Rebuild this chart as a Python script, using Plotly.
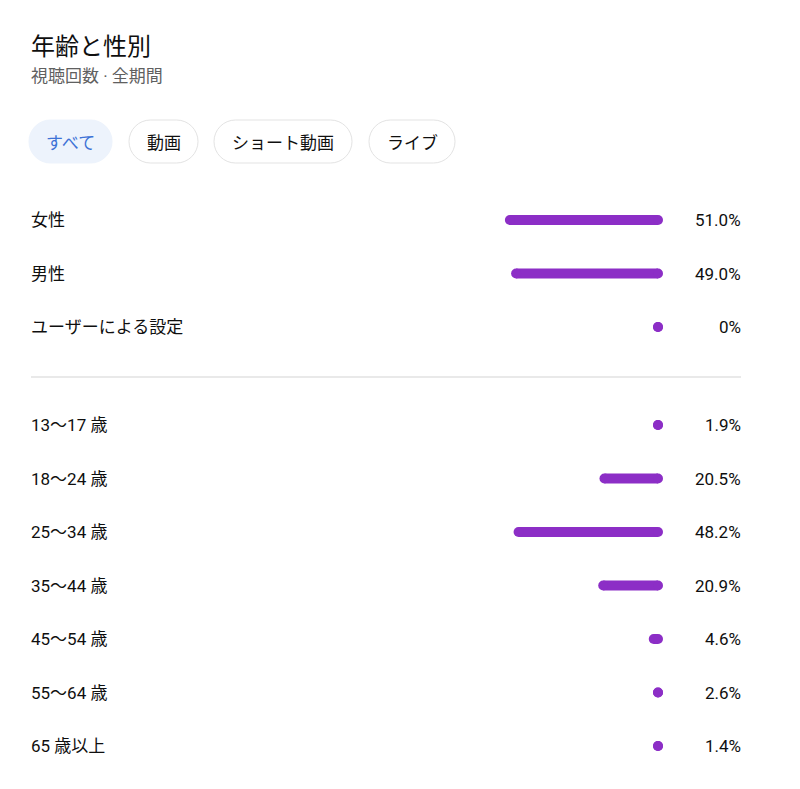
import plotly.graph_objects as go

# ---------------- data ----------------
gender_labels = ["女性", "男性", "ユーザーによる設定"]
gender_values = [51.0, 49.0, 0.0]

age_labels = ["13〜17 歳", "18〜24 歳", "25〜34 歳", "35〜44 歳", "45〜54 歳", "55〜64 歳", "65 歳以上"]
age_values = [1.9, 20.5, 48.2, 20.9, 4.6, 2.6, 1.4]

chip_labels = ["すべて", "動画", "ショート動画", "ライブ"]

title_text = "年齢と性別"
subtitle_text = "視聴回数 · 全期間"

# ---------------- style ----------------
W, H = 800, 789
PURPLE = "#8c2ec6"
TEXT = "#0f0f0f"
GREY = "#606060"
FONT = "Roboto, 'Noto Sans CJK JP', sans-serif"
FONT_CJK = "'Noto Sans CJK JP', Roboto, sans-serif"

BAR_END_PX = 663       # pixel where 0% sits (bars grow leftwards)
PX_PER_PCT = 3.1
ROW_PX = 53.5
BAR_THICK = 10
LEFT_PX = 31
RIGHT_PX = 741
ANN_PAD = 2            # annotation inner padding (borderpad + borderwidth)

x_range = [BAR_END_PX / PX_PER_PCT, 0]
cap_x = (BAR_THICK / 2) / PX_PER_PCT   # centre of the rounded caps, in % units


def pfmt(v):
    return "0%" if v == 0 else f"{v:.1f}%"


def ydom(top_center, n):
    top = top_center - ROW_PX / 2
    bot = top + n * ROW_PX
    return [(H - bot) / H, (H - top) / H]


fig = go.Figure()

for labels, values, ya in [(gender_labels, gender_values, "y"), (age_labels, age_values, "y2")]:
    # each bar = thick line between two round caps; total length (caps included) = value
    xs, ys = [], []
    for lab, v in zip(labels, values):
        xs += [max(v - cap_x, cap_x), cap_x, None]
        ys += [lab, lab, None]
    fig.add_trace(go.Scatter(
        x=xs, y=ys, mode="lines+markers", xaxis="x", yaxis=ya,
        line=dict(color=PURPLE, width=BAR_THICK),
        marker=dict(color=PURPLE, size=BAR_THICK, line=dict(width=0)),
        connectgaps=False, hoverinfo="skip", showlegend=False,
    ))


def px(x):
    return x / W


def py(y):
    return 1 - y / H


annotations = []
for labels, values, yr in [(gender_labels, gender_values, "y"), (age_labels, age_values, "y2")]:
    for lab, v in zip(labels, values):
        annotations.append(dict(x=px(LEFT_PX - ANN_PAD), xref="paper", y=lab, yref=yr, text=lab,
                                xanchor="left", yanchor="middle", showarrow=False,
                                font=dict(family=FONT, size=17, color=TEXT)))
        annotations.append(dict(x=px(RIGHT_PX + ANN_PAD), xref="paper", y=lab, yref=yr, text=pfmt(v),
                                xanchor="right", yanchor="middle", showarrow=False,
                                font=dict(family=FONT, size=17, color=TEXT)))

# title / subtitle
annotations.append(dict(x=px(LEFT_PX - ANN_PAD), y=py(44), xref="paper", yref="paper", text=title_text,
                        xanchor="left", yanchor="middle", showarrow=False,
                        font=dict(family=FONT_CJK, size=24, color=TEXT)))
annotations.append(dict(x=px(LEFT_PX - ANN_PAD), y=py(76), xref="paper", yref="paper", text=subtitle_text,
                        xanchor="left", yanchor="middle", showarrow=False,
                        font=dict(family=FONT, size=17, color=GREY)))

# chips
chip_boxes = [(29, 112), (129, 198), (214, 352), (369, 455)]
chip_top, chip_bot = 120, 163
shapes = []
K = 0.5523

for i, ((x0, x1), lab) in enumerate(zip(chip_boxes, chip_labels)):
    r = (chip_bot - chip_top) / 2
    cy = (chip_top + chip_bot) / 2
    a, b = x0 + r, x1 - r
    path = (
        f"M {px(a)},{py(chip_top)} L {px(b)},{py(chip_top)} "
        f"C {px(b + K * r)},{py(chip_top)} {px(x1)},{py(cy - K * r)} {px(x1)},{py(cy)} "
        f"C {px(x1)},{py(cy + K * r)} {px(b + K * r)},{py(chip_bot)} {px(b)},{py(chip_bot)} "
        f"L {px(a)},{py(chip_bot)} "
        f"C {px(a - K * r)},{py(chip_bot)} {px(x0)},{py(cy + K * r)} {px(x0)},{py(cy)} "
        f"C {px(x0)},{py(cy - K * r)} {px(a - K * r)},{py(chip_top)} {px(a)},{py(chip_top)} Z"
    )
    selected = i == 0
    shapes.append(dict(type="path", path=path, xref="paper", yref="paper",
                       fillcolor="#edf3fc" if selected else "#ffffff",
                       line=dict(color="#edf3fc" if selected else "#e3e3e3", width=1),
                       layer="below"))
    annotations.append(dict(x=px((x0 + x1) / 2), y=py(cy), xref="paper", yref="paper", text=lab,
                            xanchor="center", yanchor="middle", showarrow=False,
                            font=dict(family=FONT_CJK, size=17,
                                      color="#3d72d6" if selected else TEXT)))

# divider
shapes.append(dict(type="line", xref="paper", yref="paper",
                   x0=px(LEFT_PX), x1=px(RIGHT_PX), y0=py(377), y1=py(377),
                   line=dict(color="#e2e2e2", width=1.5)))

hidden = dict(visible=False, showgrid=False, zeroline=False, fixedrange=True)
fig.update_layout(
    width=W, height=H,
    margin=dict(l=0, r=0, t=0, b=0),
    paper_bgcolor="white", plot_bgcolor="white",
    xaxis=dict(domain=[0, BAR_END_PX / W], range=x_range, **hidden),
    yaxis=dict(domain=ydom(220, 3), range=[2.5, -0.5], type="category",
               categoryorder="array", categoryarray=gender_labels, **hidden),
    yaxis2=dict(domain=ydom(425, 7), range=[6.5, -0.5], type="category",
                categoryorder="array", categoryarray=age_labels, anchor="x", **hidden),
    annotations=annotations,
    shapes=shapes,
    showlegend=False,
)

fig.write_html("out.html", config={"displayModeBar": False},
               post_script="document.body.style.margin='0px';document.body.style.overflow='hidden';")
